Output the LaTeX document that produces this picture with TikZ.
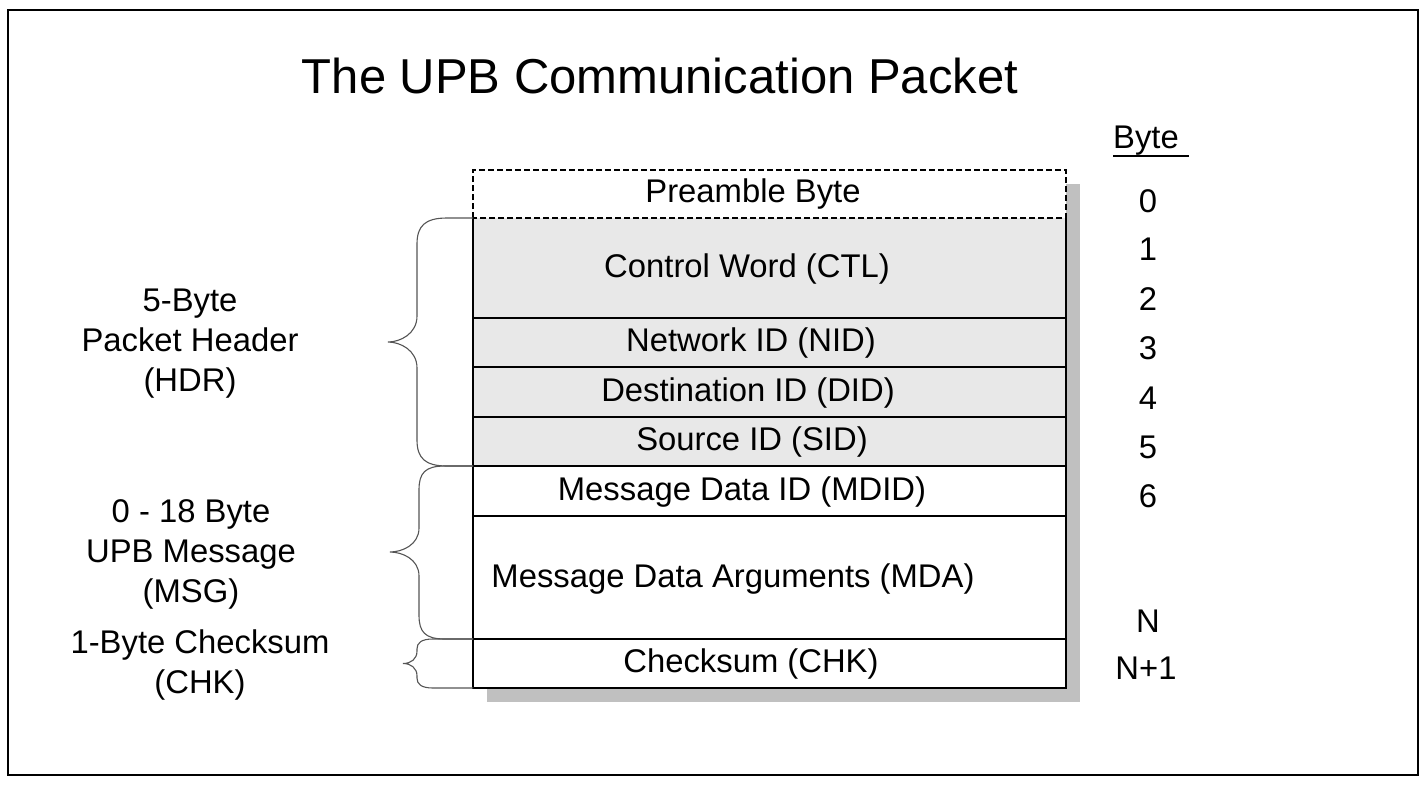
\documentclass[tikz,border=0pt]{standalone}
\usepackage{fontspec}
\setmainfont{Liberation Sans}
\definecolor{hdrgray}{HTML}{E8E8E8}
\definecolor{shadowgray}{HTML}{C0C0C0}
\definecolor{bracegray}{HTML}{555555}
\begin{document}
\begin{tikzpicture}[x=1pt,y=-1pt,
  row/.style={rectangle, line width=2pt, minimum width=593pt, inner sep=0pt, outer sep=0pt, anchor=north west},
  lbl/.style={font=\fontsize{32.8}{40}\selectfont, inner sep=0pt, align=center},
  side/.style={font=\fontsize{32.8}{40}\selectfont, inner sep=0pt, align=center},
  brace/.style={draw=bracegray, line width=1.1pt},
]
\useasboundingbox (0,0) rectangle (1425,785);
\draw[line width=2pt] (8,10) rectangle (1418,775);

\node[font=\fontsize{49}{58}\selectfont, inner sep=0pt] (title) at (660,76) {The UPB Communication Packet};

% shadow
\node[rectangle, fill=shadowgray, minimum width=593pt, minimum height=518pt, inner sep=0pt, anchor=north west] (shadow) at (487,184) {};

% rows
\node[row, fill=white, minimum height=48pt] (pre) at (473,170) {};
\node[row, fill=hdrgray, minimum height=100pt] (ctl) at (473,218) {};
\draw[line width=2pt] (ctl.north west) -- (ctl.south west) -- (ctl.south east) -- (ctl.north east);
\draw[line width=1.8pt, dash pattern=on 6pt off 3pt] (pre.south west) -- (pre.north west) -- (pre.north east) -- (pre.south east) -- cycle;
\node[row, draw, fill=hdrgray, minimum height=49pt] (nid) at (473,318) {};
\node[row, draw, fill=hdrgray, minimum height=50pt] (did) at (473,367) {};
\node[row, draw, fill=hdrgray, minimum height=49pt] (sid) at (473,417) {};
\node[row, draw, fill=white, minimum height=50pt] (mdid) at (473,466) {};
\node[row, draw, fill=white, minimum height=123pt] (mda) at (473,516) {};
\node[row, draw, fill=white, minimum height=49pt] (chk) at (473,639) {};

% row labels
\node[lbl] (tpre) at (753,194) {Preamble Byte};
\node[lbl] (tctl) at (747,269) {Control Word (CTL)};
\node[lbl] (tnid) at (751,343) {Network ID (NID)};
\node[lbl] (tdid) at (748,393) {Destination ID (DID)};
\node[lbl] (tsid) at (752,442) {Source ID (SID)};
\node[lbl] (tmdid) at (742,492) {Message Data ID (MDID)};
\node[lbl] (tmda) at (733,579) {Message Data Arguments (MDA)};
\node[lbl] (tchk) at (751,664) {Checksum (CHK)};

% braces
\draw[brace] (ctl.north west) -- ++(-26,0)
  .. controls +(-22,0) and +(0,-18) .. ++(-30,26) -- ++(0,72)
  .. controls +(0,18) and +(12,0) .. ++(-29,26)
  .. controls +(12,0) and +(0,-18) .. ++(29,26) -- ++(0,72)
  .. controls +(0,18) and +(-22,0) .. ++(30,26) -- (sid.south west);
\draw[brace] (mdid.north west) -- ++(-28,0)
  .. controls +(-20,0) and +(0,-17) .. ++(-26,24) -- ++(0,38)
  .. controls +(0,17) and +(12,0) .. ++(-29,24)
  .. controls +(12,0) and +(0,-17) .. ++(29,24) -- ++(0,39)
  .. controls +(0,17) and +(-20,0) .. ++(26,24) -- (mda.south west);
\draw[brace] (chk.north west) -- ++(-40,0)
  .. controls +(-12,0) and +(0,-6) .. ++(-16,10) -- ++(0,2)
  .. controls +(0,8) and +(8,0) .. ++(-14,12.5)
  .. controls +(8,0) and +(0,-8) .. ++(14,12.5) -- ++(0,2)
  .. controls +(0,6) and +(-12,0) .. ++(16,10) -- (chk.south west);

% side labels
\node[side] (hdr) at (190,344) {5-Byte\\Packet Header\\(HDR)};
\node[side] (msg) at (191,554) {0 - 18 Byte\\UPB Message\\(MSG)};
\node[side] (chkl) at (200,665) {1-Byte Checksum\\(CHK)};

% byte numbers
\node[lbl] (byte) at (1146,141) {Byte};
\coordinate (ul1) at (1113,156);
\coordinate (ul2) at (1189,156);
\draw[line width=1.5pt] (ul1) -- (ul2);
\node[lbl] (b0) at (1148,201) {0};
\node[lbl] (b1) at (1148,249) {1};
\node[lbl] (b2) at (1148,299) {2};
\node[lbl] (b3) at (1148,348) {3};
\node[lbl] (b4) at (1148,398) {4};
\node[lbl] (b5) at (1148,447) {5};
\node[lbl] (b6) at (1148,496) {6};
\node[lbl] (bN) at (1148,621) {N};
\node[lbl] (bN1) at (1146,668) {N+1};
\end{tikzpicture}
\end{document}
